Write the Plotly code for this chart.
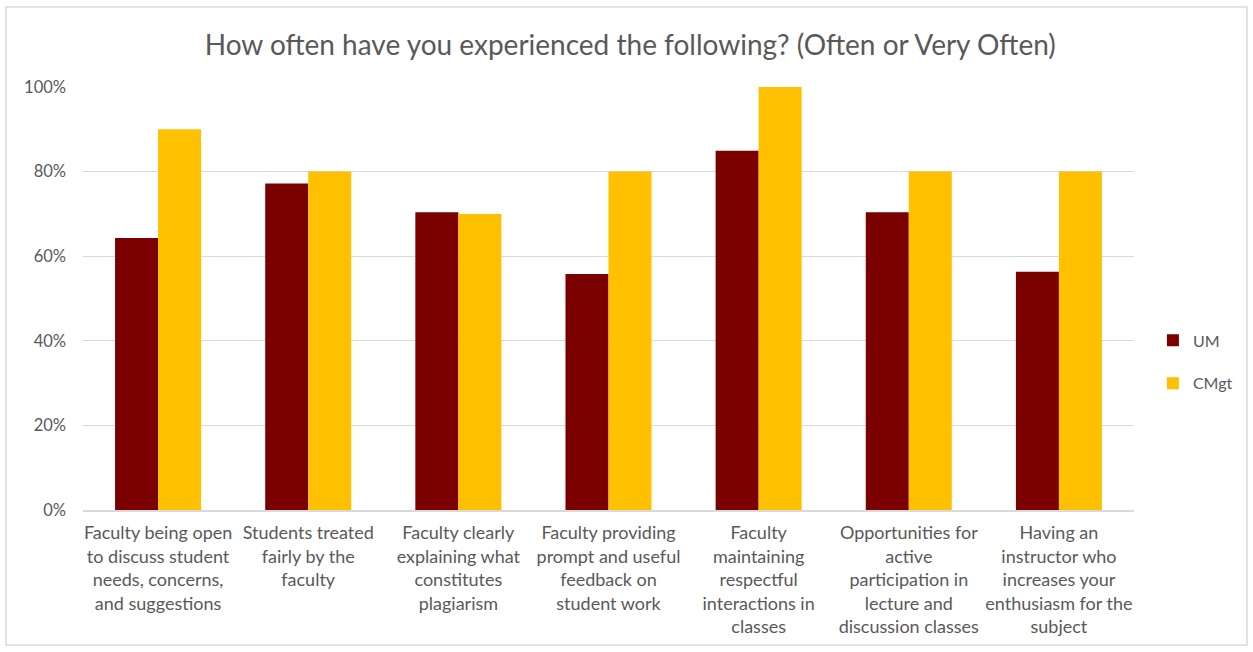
import plotly.graph_objects as go

categories = [
    "Faculty being open<br>to discuss student<br>needs, concerns,<br>and suggestions",
    "Students treated<br>fairly by the<br>faculty",
    "Faculty clearly<br>explaining what<br>constitutes<br>plagiarism",
    "Faculty providing<br>prompt and useful<br>feedback on<br>student work",
    "Faculty<br>maintaining<br>respectful<br>interactions in<br>classes",
    "Opportunities for<br>active<br>participation in<br>lecture and<br>discussion classes",
    "Having an<br>instructor who<br>increases your<br>enthusiasm for the<br>subject",
]
um_values = [0.643, 0.772, 0.704, 0.558, 0.849, 0.704, 0.563]
cmgt_values = [0.90, 0.80, 0.70, 0.80, 1.00, 0.80, 0.80]
y_ticks = [0, 0.2, 0.4, 0.6, 0.8, 1.0]
y_tick_labels = ["0%", "20%", "40%", "60%", "80%", "100%"]

FONT = "Lato"
GREY = "#595959"

fig = go.Figure()
fig.add_trace(go.Bar(x=categories, y=um_values, name="UM", marker_color="#7B0000",
                     legendgroup="a", marker_line_width=0))
fig.add_trace(go.Bar(x=categories, y=cmgt_values, name="CMgt", marker_color="#FFC000",
                     legendgroup="b", marker_line_width=0))

fig.update_layout(
    width=1253, height=652,
    paper_bgcolor="white", plot_bgcolor="white",
    margin=dict(l=83, r=119, t=87, b=142, autoexpand=False),
    barmode="group", bargap=0.427, bargroupgap=0,
    font=dict(family=FONT, color=GREY, size=16),
    title=dict(text="How often have you experienced the following? (Often or Very Often)",
               x=0.503, xref="container", xanchor="center", y=0.93, yanchor="middle",
               font=dict(family=FONT, size=28, color=GREY)),
    legend=dict(x=1.018, y=0.35, xanchor="left", yanchor="middle",
                traceorder="grouped", tracegroupgap=19,
                font=dict(family=FONT, size=16, color=GREY)),
    showlegend=True,
)
fig.update_yaxes(range=[0, 1], tickvals=y_ticks, ticktext=y_tick_labels,
                 showgrid=True, gridcolor="#D9D9D9", gridwidth=1,
                 zeroline=False, showline=False, ticks="", ticklabelstandoff=16,
                 tickfont=dict(family=FONT, size=16.5, color=GREY))
fig.update_xaxes(showline=True, linecolor="#D9D9D9", linewidth=1.5, ticks="",
                 tickangle=0, ticklabelstandoff=6,
                 tickfont=dict(family=FONT, size=18, color=GREY))

fig.add_shape(type="rect", xref="paper", yref="paper",
              x0=-0.0733, x1=1.1075, y0=-0.319, y1=1.189,
              line=dict(color="#D9D9D9", width=1.5), fillcolor="rgba(0,0,0,0)")

fig.write_html("out.html")
